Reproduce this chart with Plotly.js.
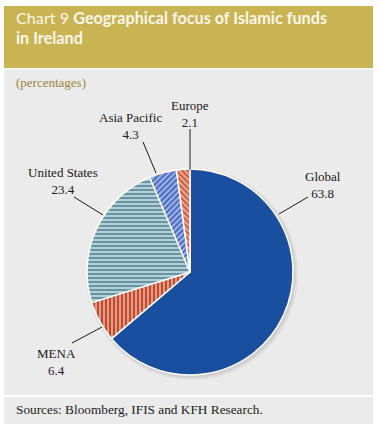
<!DOCTYPE html>
<html>
<head>
<meta charset="utf-8">
<script src="https://cdn.plot.ly/plotly-3.0.1.min.js"></script>
<style>html,body{margin:0;padding:0;background:#fff;}#chart{width:379px;height:430px;}</style>
</head>
<body>
<div id="chart"></div>
<script>
// Data (clockwise from 12 o'clock)
const labels = ["Global", "MENA", "United States", "Asia Pacific", "Europe"];
const values = [63.8, 6.4, 23.4, 4.3, 2.1];
const titleText1a = "Chart 9";
const titleText1b = "Geographical focus of Islamic funds";
const titleText2 = "in Ireland";
const unitText = "(percentages)";
const sourceText = "Sources: Bloomberg, IFIS and KFH Research.";

const W = 379, H = 430;
const X = x => x / W;
const Y = y => 1 - y / H;

const colors   = ["#1a4e9e", "#e89a82", "#b4cfd8", "#9fb4e8", "#f0a890"];
const fgcolors = ["#1a4e9e", "#b5432a", "#5e8d9c", "#3e62b8", "#c0553a"];
const shapes   = ["", "|", "-", "/", "\\"];

const labelPos = [
  {x: 323, y: 185, tip: [279, 214], tail: [308, 197]},
  {x: 56,  y: 362, tip: [102, 327], tail: [72, 343]},
  {x: 63,  y: 181, tip: [103, 215], tail: [74, 197]},
  {x: 130, y: 126, tip: [156, 173], tail: [143, 142]},
  {x: 190, y: 114, tip: [190, 170], tail: [190, 129]}
];

const trace = {
  type: "pie", labels: labels, values: values, sort: false, direction: "clockwise", rotation: 0,
  textinfo: "none", hoverinfo: "none", showlegend: false,
  domain: {x: [X(87), X(293)], y: [Y(375), Y(169)]},
  marker: {colors: colors, line: {color: "#ffffff", width: 1.5},
    pattern: {shape: shapes, fgcolor: fgcolors, bgcolor: colors, size: 4, solidity: 0.45}}
};

const layoutShapes = [
  {type: "rect", xref: "paper", yref: "paper", x0: X(4), x1: X(373), y0: Y(68), y1: Y(6), fillcolor: "#c9b352", line: {width: 0}, layer: "below"},
  {type: "rect", xref: "paper", yref: "paper", x0: X(4), x1: X(373), y0: Y(395), y1: Y(69.5), fillcolor: "#ebebeb", line: {width: 0}, layer: "below"},
  {type: "rect", xref: "paper", yref: "paper", x0: X(4), x1: X(373), y0: Y(424), y1: Y(397), fillcolor: "#ebebeb", line: {width: 0}, layer: "below"},
  {type: "circle", xref: "paper", yref: "paper", x0: X(86), x1: X(298), y0: Y(380), y1: Y(168), fillcolor: "rgba(0,0,0,0.05)", line: {width: 0}, layer: "below"},
  {type: "circle", xref: "paper", yref: "paper", x0: X(87), x1: X(296), y0: Y(378), y1: Y(169), fillcolor: "rgba(0,0,0,0.07)", line: {width: 0}, layer: "below"}
];
labelPos.forEach(p => {
  layoutShapes.push({type: "line", xref: "paper", yref: "paper",
    x0: X(p.tail[0]), y0: Y(p.tail[1]), x1: X(p.tip[0]), y1: Y(p.tip[1]),
    line: {color: "#1a1a1a", width: 1}});
});

const serif = "Liberation Serif, Tinos, Times New Roman, serif";
const titleFont = {family: "Lato", size: 16.2, color: "#fbf7ea"};
const annotations = [
  {xref: "paper", yref: "paper", x: X(15), y: Y(17.5), xanchor: "left", yanchor: "middle", showarrow: false, borderpad: 0,
   text: "<span style='font-weight:normal'>" + titleText1a + " </span><span style='font-weight:bold'>" + titleText1b + "</span>",
   font: titleFont},
  {xref: "paper", yref: "paper", x: X(15), y: Y(37), xanchor: "left", yanchor: "middle", showarrow: false, borderpad: 0,
   text: "<span style='font-weight:bold'>" + titleText2 + "</span>",
   font: titleFont},
  {xref: "paper", yref: "paper", x: X(14), y: Y(82), xanchor: "left", yanchor: "middle", showarrow: false,
   text: unitText, font: {family: serif, size: 13, color: "#9c8438"}},
  {xref: "paper", yref: "paper", x: X(14), y: Y(409), xanchor: "left", yanchor: "middle", showarrow: false,
   text: sourceText, font: {family: serif, size: 13.3, color: "#222222"}}
];
labels.forEach((lab, i) => {
  const p = labelPos[i];
  annotations.push({xref: "paper", yref: "paper", x: X(p.x), y: Y(p.y), xanchor: "center", yanchor: "middle",
    showarrow: false, borderpad: 0, text: lab + "<br>" + values[i].toFixed(1),
    font: {family: serif, size: 13, color: "#1a1a1a"}});
});

const layout = {
  width: W, height: H, margin: {l: 0, r: 0, t: 0, b: 0, pad: 0},
  paper_bgcolor: "#ffffff", plot_bgcolor: "rgba(0,0,0,0)",
  shapes: layoutShapes, annotations: annotations
};
Plotly.newPlot("chart", [trace], layout, {displayModeBar: false, staticPlot: true});
</script>
</body>
</html>
